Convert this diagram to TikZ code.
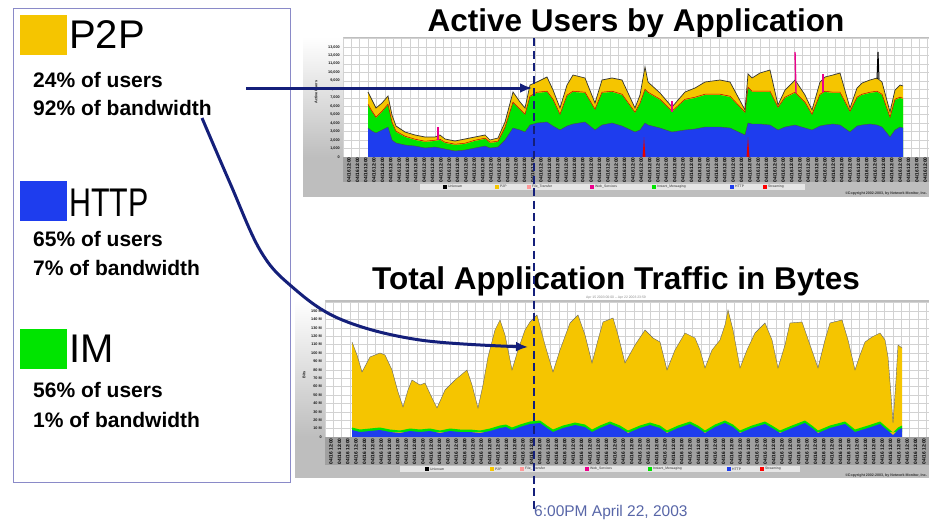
\documentclass[tikz,border=0pt]{standalone}
\usepackage{fontspec}
\setmainfont{Liberation Sans}
\usetikzlibrary{arrows.meta}

\definecolor{ptwop}{HTML}{F5C500}
\definecolor{httpc}{HTML}{1E3DEE}
\definecolor{imc}{HTML}{00E400}
\definecolor{navy}{HTML}{141F7A}
\definecolor{framec}{HTML}{8A8AC8}
\definecolor{panelgray}{HTML}{BEBEBE}
\definecolor{bandgray}{HTML}{A0A0A0}
\definecolor{gridc}{HTML}{D2D2D2}
\definecolor{stampc}{HTML}{5866A8}
\definecolor{keystrip}{HTML}{E6E6E6}

\tikzset{
  swatch/.style={minimum width=47pt, minimum height=40pt, inner sep=0pt, anchor=north west},
  bigtag/.style={font=\fontsize{40}{40}\selectfont, anchor=base west, inner sep=0pt},
  stat/.style={font=\bfseries\fontsize{21}{21}\selectfont, anchor=base west, inner sep=0pt},
  charttitle/.style={font=\bfseries\fontsize{31.5}{31.5}\selectfont, anchor=base, inner sep=0pt},
  tinylab/.style={font=\bfseries\fontsize{3.8}{4}\selectfont, inner sep=0pt, text=black!90},
  datelab/.style={font=\bfseries\fontsize{4.8}{5}\selectfont, inner sep=0pt, text=black, rotate=90},
  keylab/.style={font=\fontsize{3.4}{4}\selectfont, inner sep=0pt, anchor=west, text=black!80},
  pointer/.style={draw=navy, line width=3pt, -{Latex[length=12pt,width=10pt]}},
  gridline/.style={draw=gridc, line width=0.45pt},
}

\begin{document}
\begin{tikzpicture}[x=1pt, y=-1pt]
\useasboundingbox (0,0) rectangle (929,520);
\fill[white] (0,0) rectangle (929,520);

% ---------------- legend panel ----------------
\node (legend) [draw=framec, line width=0.9pt, minimum width=277pt, minimum height=474pt,
  inner sep=0pt, anchor=north west] at (13,8) {};

\node (swp2p) [swatch, fill=ptwop] at (20,15) {};
\node (tagp2p) [bigtag] at (69,48) {P2P};
\node (p2pusers) [stat] at (33,87) {24\% of users};
\node (p2pbw) [stat] at (33,115) {92\% of bandwidth};

\node (swhttp) [swatch, fill=httpc] at (20,181) {};
\node (taghttp) [bigtag, xscale=0.76] at (69,216) {HTTP};
\node (httpusers) [stat] at (33,246) {65\% of users};
\node (httpbw) [stat] at (33,275) {7\% of bandwidth};

\node (swim) [swatch, fill=imc] at (20,329) {};
\node (tagim) [bigtag] at (69,362) {IM};
\node (imusers) [stat] at (33,397) {56\% of users};
\node (imbw) [stat] at (33,427) {1\% of bandwidth};

% ---------------- upper chart: active users ----------------
\node (toptitle) [charttitle] at (636,31) {Active Users by Application};

\fill[panelgray] (303,37) rectangle (929,197);
\shade[top color=white, bottom color=panelgray] (303,37) rectangle (343,157);
\fill[white] (343,38) rectangle (929,157);
\foreach \k in {0,...,70} \draw[gridline] ({343+\k*8.35},38) -- ({343+\k*8.35},157);
\foreach \k in {0,...,14} \draw[gridline] (343,{157-\k*8.46}) -- (929,{157-\k*8.46});

\foreach \k in {0,...,13} {
  \ifnum\k=0 \node[tinylab, anchor=east] at (340,{157-\k*8.46}) {0};
  \else \node[tinylab, anchor=east] at (340,{157-\k*8.46}) {\k,000}; \fi
}
\node[tinylab, rotate=90] at (316,92) {Active Users};

% stacked areas
\fill[ptwop] (368,157) -- plot coordinates {(368,92) (372,100) (376,108) (382,103) (388,96) (392,115) (396,126) (405,132) (415,135) (425,137) (435,137) (440,135) (445,139) (455,141) (465,139) (475,137) (485,135) (490,140) (498,138) (505,122) (513,92) (520,102) (525,108) (530,85) (537,82) (547,77) (553,90) (560,108) (567,85) (573,75) (585,78) (595,103) (602,80) (612,78) (622,80) (635,108) (640,95) (645,67) (648,82) (660,93) (672,107) (685,92) (695,88) (705,82) (720,80) (730,82) (745,110) (748,74) (752,78) (760,73) (770,70) (778,105) (785,90) (795,80) (805,95) (812,110) (820,82) (825,77) (833,75) (840,73) (850,108) (857,88) (862,83) (870,80) (877,78) (882,82) (890,112) (895,90) (900,85) (903,86)} -- (903,157) -- cycle;
\draw[black!80, line width=0.7pt] plot coordinates {(368,92) (372,100) (376,108) (382,103) (388,96) (392,115) (396,126) (405,132) (415,135) (425,137) (435,137) (440,135) (445,139) (455,141) (465,139) (475,137) (485,135) (490,140) (498,138) (505,122) (513,92) (520,102) (525,108) (530,85) (537,82) (547,77) (553,90) (560,108) (567,85) (573,75) (585,78) (595,103) (602,80) (612,78) (622,80) (635,108) (640,95) (645,67) (648,82) (660,93) (672,107) (685,92) (695,88) (705,82) (720,80) (730,82) (745,110) (748,74) (752,78) (760,73) (770,70) (778,105) (785,90) (795,80) (805,95) (812,110) (820,82) (825,77) (833,75) (840,73) (850,108) (857,88) (862,83) (870,80) (877,78) (882,82) (890,112) (895,90) (900,85) (903,86)};
\fill[imc] (368,157) -- plot coordinates {(368,105) (372,112) (376,118) (382,112) (388,105) (392,123) (396,132) (405,137) (415,140) (425,142) (435,141) (440,140) (445,143) (455,145) (465,144) (475,141) (485,139) (490,143) (498,142) (505,128) (513,103) (520,110) (525,115) (530,97) (537,93) (547,92) (553,100) (560,115) (567,96) (573,92) (585,93) (595,110) (602,93) (612,92) (622,95) (635,113) (640,104) (645,90) (648,93) (660,100) (672,112) (685,100) (695,98) (705,95) (720,95) (730,97) (745,113) (748,88) (752,92) (760,92) (770,92) (778,108) (785,98) (795,93) (805,103) (812,115) (820,95) (825,92) (833,93) (840,93) (850,112) (857,98) (862,95) (870,93) (877,92) (882,95) (890,118) (895,100) (900,98) (903,99)} -- (903,157) -- cycle;
\draw[red!75!black, line width=0.5pt, yshift=0.8pt] plot coordinates {(368,105) (372,112) (376,118) (382,112) (388,105) (392,123) (396,132) (405,137) (415,140) (425,142) (435,141) (440,140) (445,143) (455,145) (465,144) (475,141) (485,139) (490,143) (498,142) (505,128) (513,103) (520,110) (525,115) (530,97) (537,93) (547,92) (553,100) (560,115) (567,96) (573,92) (585,93) (595,110) (602,93) (612,92) (622,95) (635,113) (640,104) (645,90) (648,93) (660,100) (672,112) (685,100) (695,98) (705,95) (720,95) (730,97) (745,113) (748,88) (752,92) (760,92) (770,92) (778,108) (785,98) (795,93) (805,103) (812,115) (820,95) (825,92) (833,93) (840,93) (850,112) (857,98) (862,95) (870,93) (877,92) (882,95) (890,118) (895,100) (900,98) (903,99)};
\fill[httpc] (368,157) -- plot coordinates {(368,128) (372,131) (376,133) (382,130) (388,127) (392,140) (396,143) (405,145) (415,146) (425,148) (435,147) (440,148) (445,149) (455,151) (465,150) (475,148) (485,146) (490,148) (498,147) (505,140) (513,128) (520,130) (525,132) (530,125) (537,123) (547,122) (553,126) (560,130) (567,126) (573,124) (585,122) (595,130) (602,125) (612,123) (622,126) (635,132) (640,130) (645,123) (648,125) (660,128) (672,132) (685,130) (695,129) (705,127) (720,127) (730,128) (745,135) (748,123) (752,124) (760,124) (770,125) (778,130) (785,127) (795,125) (805,128) (812,130) (820,126) (825,125) (833,124) (840,125) (850,132) (857,126) (862,125) (870,124) (877,125) (882,127) (890,137) (895,130) (900,127) (903,128)} -- (903,157) -- cycle;
\draw[black!70, line width=0.4pt] plot coordinates {(368,128) (372,131) (376,133) (382,130) (388,127) (392,140) (396,143) (405,145) (415,146) (425,148) (435,147) (440,148) (445,149) (455,151) (465,150) (475,148) (485,146) (490,148) (498,147) (505,140) (513,128) (520,130) (525,132) (530,125) (537,123) (547,122) (553,126) (560,130) (567,126) (573,124) (585,122) (595,130) (602,125) (612,123) (622,126) (635,132) (640,130) (645,123) (648,125) (660,128) (672,132) (685,130) (695,129) (705,127) (720,127) (730,128) (745,135) (748,123) (752,124) (760,124) (770,125) (778,130) (785,127) (795,125) (805,128) (812,130) (820,126) (825,125) (833,124) (840,125) (850,132) (857,126) (862,125) (870,124) (877,125) (882,127) (890,137) (895,130) (900,127) (903,128)};
% spikes
\fill[red!90!black] (642.5,157) -- (644,137) -- (645.5,157) -- cycle;
\fill[red!90!black] (746.5,157) -- (748,137) -- (749.5,157) -- cycle;
\draw[magenta, line width=1.2pt] (438,140) -- (438,127);
\draw[magenta, line width=1.3pt] (672,112) -- (672,101);
\draw[magenta, line width=1.4pt] (796,93) -- (795,52);
\draw[magenta, line width=1.3pt] (823,92) -- (823,74);
\draw[black, line width=1pt] (877,79) -- (878,52) -- (879,79);

% date band, key strip, footer
\fill[bandgray] (343,157) rectangle (929,182);
\foreach \k in {0,...,69} {
  \node[datelab] at ({349+\k*8.35},163.5) {12:00};
  \node[datelab] at ({349+\k*8.35},176) {04/16};
}
\fill[keystrip] (420,183.5) rectangle (805,189.5);
\foreach \xx/\cc/\tt in {443/black/Unknown, 495/ptwop/P2P, 527/red!40/File\_Transfer, 590/magenta/Web\_Services, 652/imc/Instant\_Messaging, 730/httpc/HTTP, 763/red/Streaming} {
  \fill[\cc] (\xx,184.5) rectangle ({\xx+4},188.5);
  \node[keylab] at ({\xx+5},186.5) {\tt};
}
\node[keylab, anchor=east, font=\bfseries\fontsize{3.6}{4}\selectfont] at (927,194) {\textcopyright Copyright 2002-2003, by Network Monitor, Inc.};

% ---------------- lower chart: traffic in bytes ----------------
\node (bottitle) [charttitle] at (616,289) {Total Application Traffic in Bytes};

\fill[panelgray] (295,300) rectangle (929,478);
\shade[top color=white, bottom color=panelgray] (295,300) rectangle (325,437);
\fill[white] (325,302) rectangle (929,437);
\foreach \k in {0,...,72} \draw[gridline] ({325+\k*8.35},302) -- ({325+\k*8.35},437);
\foreach \k in {0,...,16} \draw[gridline] (325,{437-\k*8.4}) -- (929,{437-\k*8.4});
\foreach \k in {0,...,15} {
  \ifnum\k=0 \node[tinylab, anchor=east] at (322,{437-\k*8.4}) {0};
  \else \node[tinylab, anchor=east] at (322,{437-\k*8.4}) {\k0 M}; \fi
}
\node[tinylab, rotate=90] at (304,375) {Bits};
\node[keylab, text=black!45, anchor=center] at (616,297.5) {Apr 15 2003 00:00 -- Apr 22 2003 23:59};

\fill[ptwop] (352,437) -- plot coordinates {(352,342) (357,355) (362,372) (370,357) (380,353) (385,355) (392,370) (398,392) (403,407) (408,390) (412,380) (420,385) (425,383) (432,398) (437,408) (445,390) (455,380) (467,370) (472,385) (478,408) (483,385) (488,357) (495,330) (500,320) (505,335) (512,370) (518,350) (525,330) (530,322) (537,315) (545,345) (553,372) (560,350) (570,323) (578,315) (585,335) (592,363) (598,340) (603,322) (613,318) (618,335) (625,363) (635,345) (645,330) (653,338) (660,342) (667,370) (675,350) (685,333) (695,338) (700,350) (705,368) (712,350) (720,340) (725,325) (728,310) (733,330) (740,368) (747,350) (755,333) (765,323) (772,340) (778,368) (785,345) (790,323) (802,322) (810,345) (818,368) (825,340) (830,323) (842,320) (848,340) (855,370) (860,355) (865,342) (872,337) (880,333) (885,340) (888,357) (891,395) (893,423) (896,380) (898,345) (902,348)} -- (902,437) -- cycle;
\draw[black!60, line width=0.4pt] plot coordinates {(352,342) (357,355) (362,372) (370,357) (380,353) (385,355) (392,370) (398,392) (403,407) (408,390) (412,380) (420,385) (425,383) (432,398) (437,408) (445,390) (455,380) (467,370) (472,385) (478,408) (483,385) (488,357) (495,330) (500,320) (505,335) (512,370) (518,350) (525,330) (530,322) (537,315) (545,345) (553,372) (560,350) (570,323) (578,315) (585,335) (592,363) (598,340) (603,322) (613,318) (618,335) (625,363) (635,345) (645,330) (653,338) (660,342) (667,370) (675,350) (685,333) (695,338) (700,350) (705,368) (712,350) (720,340) (725,325) (728,310) (733,330) (740,368) (747,350) (755,333) (765,323) (772,340) (778,368) (785,345) (790,323) (802,322) (810,345) (818,368) (825,340) (830,323) (842,320) (848,340) (855,370) (860,355) (865,342) (872,337) (880,333) (885,340) (888,357) (891,395) (893,423) (896,380) (898,345) (902,348)};
\begin{scope}[yshift=2.5pt]
\fill[imc] (352,434.5) -- plot coordinates {(352,430) (360,432) (370,431) (380,430) (390,432) (400,433) (410,431) (420,432) (430,431) (440,433) (450,431) (460,432) (470,432) (480,433) (490,431) (500,428) (506,427) (512,430) (520,427) (530,424) (540,423) (547,428) (553,432) (563,428) (575,425) (585,427) (592,432) (600,428) (610,424) (620,428) (628,433) (640,428) (650,425) (660,428) (667,433) (678,428) (690,424) (698,428) (705,433) (715,427) (725,423) (733,427) (740,433) (752,428) (765,424) (772,428) (780,433) (792,428) (805,423) (812,428) (818,433) (830,428) (845,424) (850,428) (855,432) (868,428) (880,424) (887,430) (893,435) (898,430) (902,428)} -- (902,434.5) -- cycle;
\end{scope}
\fill[httpc] (352,437) -- plot coordinates {(352,430) (360,432) (370,431) (380,430) (390,432) (400,433) (410,431) (420,432) (430,431) (440,433) (450,431) (460,432) (470,432) (480,433) (490,431) (500,428) (506,427) (512,430) (520,427) (530,424) (540,423) (547,428) (553,432) (563,428) (575,425) (585,427) (592,432) (600,428) (610,424) (620,428) (628,433) (640,428) (650,425) (660,428) (667,433) (678,428) (690,424) (698,428) (705,433) (715,427) (725,423) (733,427) (740,433) (752,428) (765,424) (772,428) (780,433) (792,428) (805,423) (812,428) (818,433) (830,428) (845,424) (850,428) (855,432) (868,428) (880,424) (887,430) (893,435) (898,430) (902,428)} -- (902,437) -- cycle;

\fill[bandgray] (325,437) rectangle (929,465);
\foreach \k in {0,...,71} {
  \node[datelab] at ({331+\k*8.35},444.5) {12:00};
  \node[datelab] at ({331+\k*8.35},458) {04/16};
}
\fill[keystrip] (400,466) rectangle (800,472);
\foreach \xx/\cc/\tt in {425/black/Unknown, 490/ptwop/P2P, 520/red!40/File\_Transfer, 585/magenta/Web\_Services, 648/imc/Instant\_Messaging, 727/httpc/HTTP, 760/red/Streaming} {
  \fill[\cc] (\xx,467) rectangle ({\xx+4},471);
  \node[keylab] at ({\xx+5},469) {\tt};
}
\node[keylab, anchor=east, font=\bfseries\fontsize{3.6}{4}\selectfont] at (927,476) {\textcopyright Copyright 2002-2003, by Network Monitor, Inc.};

% ---------------- time marker and pointers ----------------
\coordinate (marktop) at (534,38);
\coordinate (markbot) at (534,512);
\draw[navy, line width=2.8pt, dash pattern=on 8pt off 4.5pt] (marktop) -- (markbot);
\node (stamp) [font=\fontsize{15.5}{16}\selectfont, text=stampc, anchor=base west, inner sep=0pt] at (534,516) {6:00PM April 22, 2003};

\coordinate (usersstart) at (246,88);
\coordinate (usersend) at (532,88);
\draw[pointer] (usersstart) -- (usersend);

\coordinate (bwstart) at (202,118);
\coordinate (bwa) at (230,183);
\coordinate (bwb) at (260,250);
\coordinate (bwc) at (290,285);
\coordinate (bwd) at (340,319);
\coordinate (bwe) at (420,340);
\coordinate (bwend) at (528,347);
\draw[pointer] plot[smooth, tension=0.6] coordinates {(bwstart) (bwa) (bwb) (bwc) (bwd) (bwe) (bwend)};

\end{tikzpicture}
\end{document}
